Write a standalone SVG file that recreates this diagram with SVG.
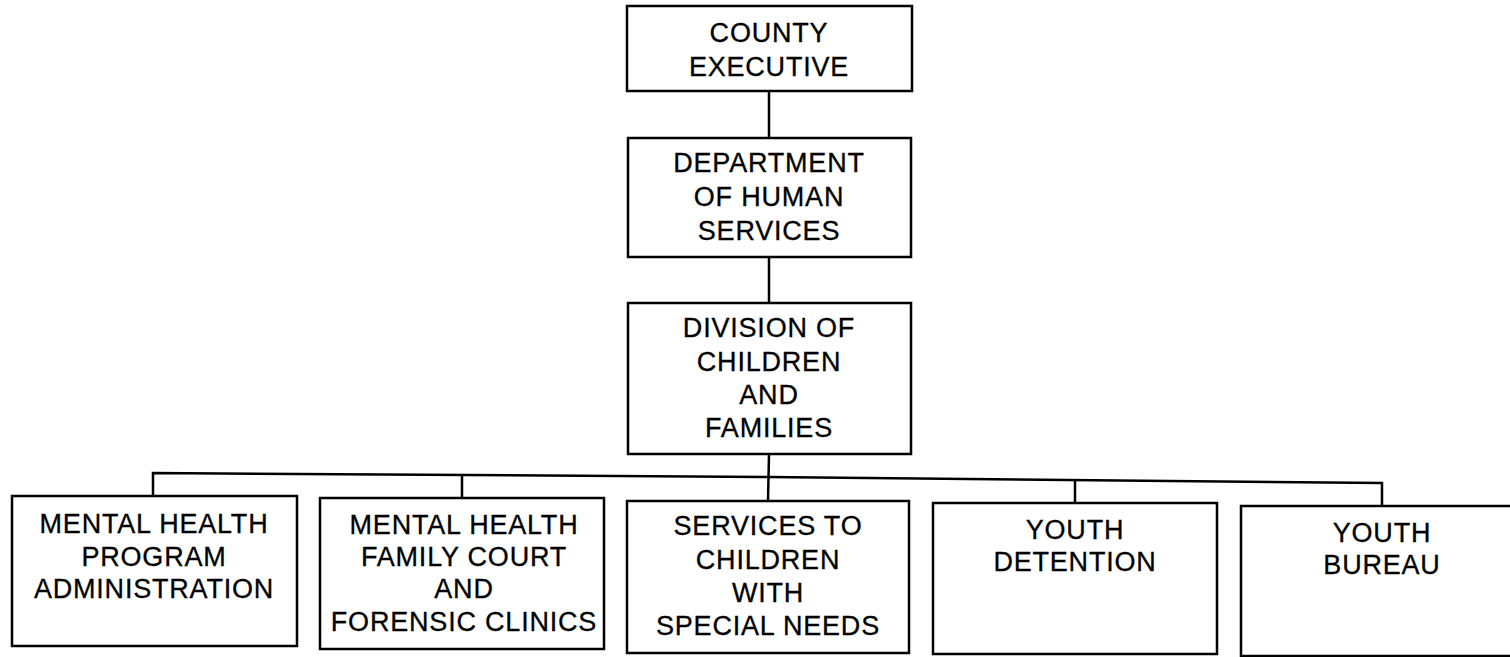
<svg xmlns="http://www.w3.org/2000/svg" width="1510" height="657" viewBox="0 0 1510 657">
<style>
.box{fill:#fff;stroke:#000;stroke-width:2.5}
.ln{fill:none;stroke:#000;stroke-width:2.5}
text{font-family:"Liberation Sans",Arial,sans-serif;font-size:27px;letter-spacing:0.8px;fill:#000;stroke:#000;stroke-width:0.3;text-anchor:middle}
</style>
<rect width="1510" height="657" fill="#fff"/>
<g id="connectors">
<line class="ln" x1="769" y1="91" x2="769" y2="138"/>
<line class="ln" x1="769" y1="257" x2="769" y2="303"/>
<line class="ln" x1="769" y1="454" x2="768" y2="501"/>
<polyline class="ln" points="153,496 153,473 768,477 1382,483 1382,506"/>
<line class="ln" x1="462" y1="475" x2="462" y2="498"/>
<line class="ln" x1="1075" y1="480" x2="1075" y2="503"/>
</g>
<g id="county-executive">
<rect class="box" x="627" y="6" width="285" height="85"/>
<text x="769" y="42">COUNTY</text>
<text x="769" y="76">EXECUTIVE</text>
</g>
<g id="dept-human-services">
<rect class="box" x="628" y="138" width="283" height="119"/>
<text x="769" y="172">DEPARTMENT</text>
<text x="769" y="206">OF HUMAN</text>
<text x="769" y="240">SERVICES</text>
</g>
<g id="division-children-families">
<rect class="box" x="628" y="303" width="283" height="151"/>
<text x="769" y="337">DIVISION OF</text>
<text x="769" y="371">CHILDREN</text>
<text x="769" y="404">AND</text>
<text x="769" y="437">FAMILIES</text>
</g>
<g id="mh-program-admin">
<rect class="box" x="12" y="496" width="285" height="150"/>
<text x="154" y="533">MENTAL HEALTH</text>
<text x="154" y="566">PROGRAM</text>
<text x="154" y="598">ADMINISTRATION</text>
</g>
<g id="mh-family-court">
<rect class="box" x="320" y="498" width="284" height="151"/>
<text x="464" y="534">MENTAL HEALTH</text>
<text x="464" y="566">FAMILY COURT</text>
<text x="464" y="598">AND</text>
<text x="464" y="631">FORENSIC CLINICS</text>
</g>
<g id="special-needs">
<rect class="box" x="627" y="501" width="282" height="152"/>
<text x="768" y="535">SERVICES TO</text>
<text x="768" y="569">CHILDREN</text>
<text x="768" y="602">WITH</text>
<text x="768" y="635">SPECIAL NEEDS</text>
</g>
<g id="youth-detention">
<rect class="box" x="933" y="503" width="284" height="151"/>
<text x="1075" y="539">YOUTH</text>
<text x="1075" y="571">DETENTION</text>
</g>
<g id="youth-bureau">
<rect class="box" x="1241" y="506" width="290" height="150"/>
<text x="1382" y="542">YOUTH</text>
<text x="1382" y="574">BUREAU</text>
</g>
</svg>
